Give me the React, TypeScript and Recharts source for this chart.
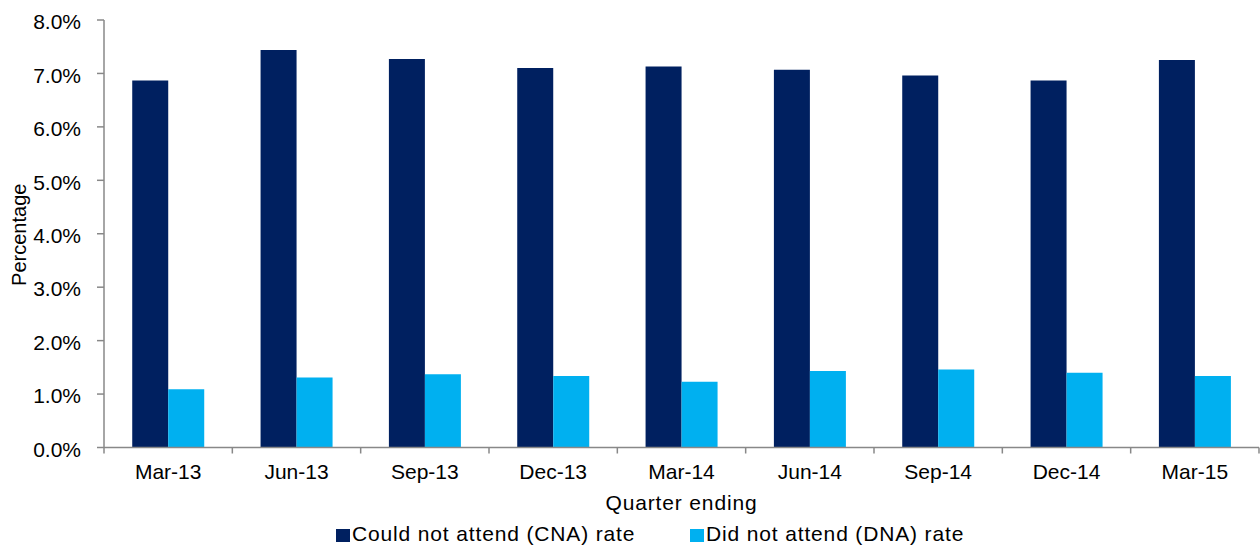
import React from 'react';
import { BarChart, Bar, XAxis, YAxis, Legend } from 'recharts';

const quarters = ['Mar-13', 'Jun-13', 'Sep-13', 'Dec-13', 'Mar-14', 'Jun-14', 'Sep-14', 'Dec-14', 'Mar-15'];
const cnaRate = [6.87, 7.44, 7.27, 7.1, 7.13, 7.07, 6.96, 6.87, 7.25];
const dnaRate = [1.09, 1.31, 1.37, 1.34, 1.23, 1.43, 1.46, 1.4, 1.34];
const yTicks = [0, 1, 2, 3, 4, 5, 6, 7, 8];
const seriesNames = ['Could not attend (CNA) rate', 'Did not attend (DNA) rate'];
const xTitle = 'Quarter ending';
const yTitle = 'Percentage';

const data = quarters.map((q, i) => ({ quarter: q, cna: cnaRate[i], dna: dnaRate[i] }));

const FONT = '"Liberation Sans", Arial, sans-serif';
const AXIS_COLOR = '#888888';
const X_TICK_SIZE = 6;
const X_TICK_MARGIN = 11;
const LEGEND_LEFTS = [336, 690];

const XTick = (props: any) => {
  const { x, y, payload, index, width } = props;
  const half = typeof payload.offset === 'number' && payload.offset > 0 ? payload.offset : width / quarters.length / 2;
  const axisY = y - X_TICK_SIZE - X_TICK_MARGIN;
  return (
    <g>
      <line x1={x - half} x2={x - half} y1={axisY} y2={axisY + 6} stroke={AXIS_COLOR} strokeWidth={1.5} />
      {index === quarters.length - 1 && (
        <line x1={x + half} x2={x + half} y1={axisY} y2={axisY + 6} stroke={AXIS_COLOR} strokeWidth={1.5} />
      )}
      <text x={x} y={y} dy={14.9} textAnchor="middle" fontFamily={FONT} fontSize={21} fill="#000">
        {payload.value}
      </text>
    </g>
  );
};

const YTick = (props: any) => {
  const { x, y, payload } = props;
  return (
    <text x={x} y={y} dy={9.2} textAnchor="end" fontFamily={FONT} fontSize={21} fill="#000">
      {Number(payload.value).toFixed(1) + '%'}
    </text>
  );
};

const XTitle = (props: any) => {
  const vb = props.viewBox;
  return (
    <text x={vb.x + vb.width / 2} y={vb.y + 62} textAnchor="middle" fontFamily={FONT} fontSize={21} letterSpacing={0.85} fill="#000">
      {xTitle}
    </text>
  );
};

const YTitle = (props: any) => {
  const vb = props.viewBox;
  const cx = 25.5;
  const cy = vb.y + vb.height / 2 + 1;
  return (
    <text x={cx} y={cy} transform={`rotate(-90 ${cx} ${cy})`} textAnchor="middle" fontFamily={FONT} fontSize={20} fill="#000">
      {yTitle}
    </text>
  );
};

const renderLegend = (props: any) => {
  const payload = props.payload || [];
  return (
    <div style={{ height: 36, position: 'relative', fontFamily: FONT, fontSize: 21, letterSpacing: 0.85, color: '#000' }}>
      {payload.map((e: any, i: number) => (
        <div
          key={i}
          style={{
            position: 'absolute',
            left: LEGEND_LEFTS[i],
            top: 10,
            height: 24,
            lineHeight: '24px',
            display: 'flex',
            alignItems: 'center',
            whiteSpace: 'nowrap',
          }}
        >
          <span style={{ display: 'inline-block', width: 14, height: 13, background: e.color, marginRight: 2, marginTop: 2 }} />
          <span>{e.value}</span>
        </div>
      ))}
    </div>
  );
};

export default function App() {
  return (
    <div style={{ position: 'absolute', left: 0, top: 0, width: 1260, height: 548, background: '#fff' }}>
      <BarChart
        width={1260}
        height={548}
        data={data}
        margin={{ top: 20, right: 1, left: 0, bottom: 0 }}
        barCategoryGap="22%"
        barGap={0}
      >
        <XAxis
          dataKey="quarter"
          height={64.5}
          tickLine={false}
          tickSize={X_TICK_SIZE}
          tickMargin={X_TICK_MARGIN}
          axisLine={{ stroke: AXIS_COLOR, strokeWidth: 1.5 }}
          tick={<XTick />}
          interval={0}
          label={<XTitle />}
        />
        <YAxis
          width={104}
          domain={[0, 8]}
          ticks={yTicks}
          interval={0}
          tickSize={7}
          tickMargin={16}
          tickLine={{ stroke: AXIS_COLOR, strokeWidth: 1.5 }}
          axisLine={{ stroke: AXIS_COLOR, strokeWidth: 1.5 }}
          tick={<YTick />}
          label={<YTitle />}
        />
        <Legend verticalAlign="bottom" content={renderLegend} />
        <Bar dataKey="cna" name={seriesNames[0]} fill="#002060" isAnimationActive={false} />
        <Bar dataKey="dna" name={seriesNames[1]} fill="#00B0F0" isAnimationActive={false} />
      </BarChart>
    </div>
  );
}
